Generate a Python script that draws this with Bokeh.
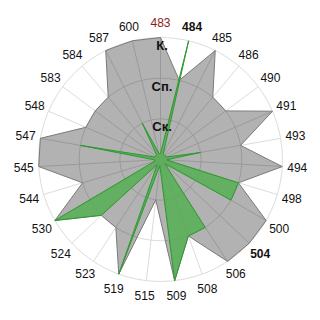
import numpy as np
from bokeh.plotting import figure
from bokeh.models import Range1d, ColumnDataSource
from bokeh.embed import file_html
from bokeh.resources import INLINE
from bokeh.core.properties import value

categories = ["483", "484", "485", "486", "490", "491", "493", "494", "498",
              "500", "504", "506", "508", "509", "515", "519", "523", "524",
              "530", "544", "545", "547", "548", "583", "584", "587", "600"]
gray_values = [3, 2, 3, 2, 2, 3, 2, 3, 2,
               3, 3, 3, 2, 3, 1, 3, 2, 2,
               3, 2, 3, 3, 2, 2, 2, 3, 3]
green_values = [0.15, 3, 0.15, 0.15, 0.15, 0.15, 1, 0.15, 2,
                2, 0.15, 2, 2, 3, 0.15, 3, 0.15, 2,
                3, 0.15, 0.15, 2, 0.15, 0.15, 0.15, 1, 0.15]
red_labels = ["483"]
bold_labels = ["484", "504"]
level_labels = ["Ск.", "Сп.", "К."]
level_values = [1, 2, 3]
max_value = 3

R = 122.0
n = len(categories)
theta = np.arange(n) * 2 * np.pi / n


def to_xy(vals, rad=R):
    r = np.asarray(vals, dtype=float) / max_value * rad
    return r * np.sin(theta), r * np.cos(theta)


p = figure(width=320, height=320, x_range=Range1d(-160, 160), y_range=Range1d(-161, 159),
           output_backend="svg", toolbar_location=None, min_border=0,
           x_axis_location=None, y_axis_location=None)
p.grid.visible = False
p.outline_line_color = None
p.background_fill_color = "white"

grid_color = "#dcdcdc"
# grid circles
p.circle(x=[0] * len(level_values), y=[0] * len(level_values),
         radius=[v / max_value * R for v in level_values],
         fill_color=None, line_color=grid_color, line_width=1)
# radial lines
ex, ey = to_xy([max_value] * n)
p.segment(x0=np.zeros(n), y0=np.zeros(n), x1=ex, y1=ey, line_color=grid_color, line_width=1)

# gray series
gx, gy = to_xy(gray_values)
p.patch(x=list(gx), y=list(gy), fill_color="black", fill_alpha=0.3,
        line_color="#7a7a7a", line_width=1)

# green series
hx, hy = to_xy(green_values)
p.patch(x=list(hx), y=list(hy), fill_color="#55af55", fill_alpha=0.85,
        line_color="#2e9a2e", line_width=1)

# category labels
lr = 137.0
lx, ly = lr * np.sin(theta), lr * np.cos(theta)
normal = [i for i, c in enumerate(categories) if c not in red_labels and c not in bold_labels]
red = [i for i, c in enumerate(categories) if c in red_labels]
bold = [i for i, c in enumerate(categories) if c in bold_labels]
for idx, color, style in [(normal, "#111111", "normal"), (red, "#8b1a1a", "normal"),
                          (bold, "#111111", "bold")]:
    src = ColumnDataSource(dict(x=lx[idx], y=ly[idx], t=[categories[i] for i in idx]))
    p.text(x="x", y="y", text="t", source=src, text_align="center", text_baseline="middle",
           text_font=value("Liberation Sans"), text_font_size="12px",
           text_color=color, text_font_style=style)

# level labels
src = ColumnDataSource(dict(x=[1.5] * len(level_values),
                            y=[v / max_value * R - 8 for v in level_values],
                            t=level_labels))
p.text(x="x", y="y", text="t", source=src, text_align="center", text_baseline="middle",
       text_font=value("Liberation Sans"), text_font_size="13px",
       text_color="#111111", text_font_style="bold")

open("out.html", "w").write(file_html(p, INLINE))
